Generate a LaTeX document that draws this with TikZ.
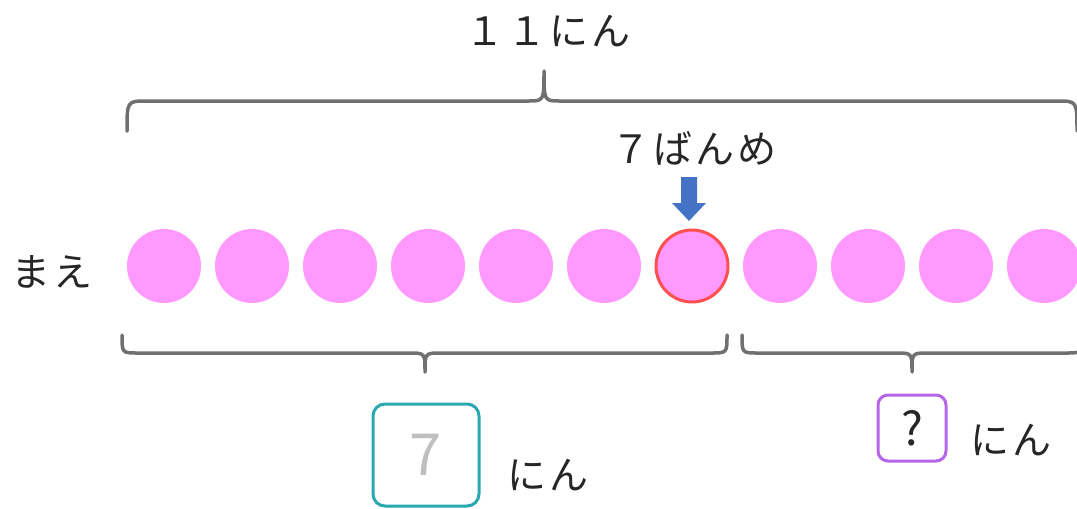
\documentclass[tikz,border=0pt]{standalone}
\usepackage{fontspec}
\setmainfont{Noto Sans CJK JP}[LetterSpace=8]
\definecolor{pinkfill}{HTML}{FF99FF}
\definecolor{redline}{HTML}{FF5050}
\definecolor{bracegray}{HTML}{707070}
\definecolor{arrowblue}{HTML}{4472C4}
\definecolor{tealbox}{HTML}{2AA8B0}
\definecolor{purplebox}{HTML}{B565E8}
\definecolor{txt}{HTML}{262626}
\begin{document}
\begin{tikzpicture}[x=1pt,y=-1pt,
  ball/.style={circle,fill=pinkfill,minimum size=74pt,inner sep=0pt},
  brace/.style={draw=bracegray,line width=3.5pt,line cap=round,line join=round},
  lbl/.style={text=txt,font=\fontsize{39}{44}\selectfont,inner sep=0pt}]
\useasboundingbox (0,0) rectangle (1077,509);
\clip (0,0) rectangle (1077,509);
% balls
\foreach \i/\x in {1/164,2/252,3/340,4/428,5/516,6/604,8/780,9/868,10/956,11/1044}
  \node[ball] (b\i) at (\x,266) {};
\node[ball,draw=redline,line width=3pt,minimum size=72pt] (b7) at (692,266) {};
% labels
\node[lbl] (total) at (548,31) {１１にん};
\node[lbl] (nth) at (694,148) {７ばんめ};
\node[lbl] (mae) at (52,272) {まえ};
% arrow
\fill[arrowblue] (681,177) -- (697,177) -- (697,203) -- (706,203) -- (689,221) -- (672,203) -- (681,203) -- cycle;
% top brace
\draw[brace] (127,131) .. controls (127,101) .. (147,101) -- (528,101)
  .. controls (544,101) .. (544,71) .. controls (544,101) .. (560,101) -- (1057,101)
  .. controls (1077,101) .. (1077,131);
% bottom left brace
\draw[brace] (122,335) .. controls (122,353) .. (138,353) -- (409,353)
  .. controls (425,353) .. (425,372) .. controls (425,353) .. (441,353) -- (711,353)
  .. controls (727,353) .. (727,335);
% bottom right brace
\draw[brace] (742,335) .. controls (742,353) .. (758,353) -- (896,353)
  .. controls (912,353) .. (912,372) .. controls (912,353) .. (928,353) -- (1066,353)
  .. controls (1082,353) .. (1082,335);
% answer boxes
\node[draw=tealbox,line width=3pt,rounded corners=12pt,minimum width=106pt,minimum height=102pt,inner sep=0pt,
  text=black!25,font=\fontsize{58}{64}\selectfont] (seven) at (426,455) {7};
\node[lbl] (nin1) at (548,475) {にん};
\node[draw=purplebox,line width=3pt,rounded corners=10pt,minimum width=68pt,minimum height=66pt,inner sep=0pt,
  text=txt,font=\fontsize{46}{50}\selectfont] (q) at (912,428) {?};
\node[lbl] (nin2) at (1011,440) {にん};
\end{tikzpicture}
\end{document}
